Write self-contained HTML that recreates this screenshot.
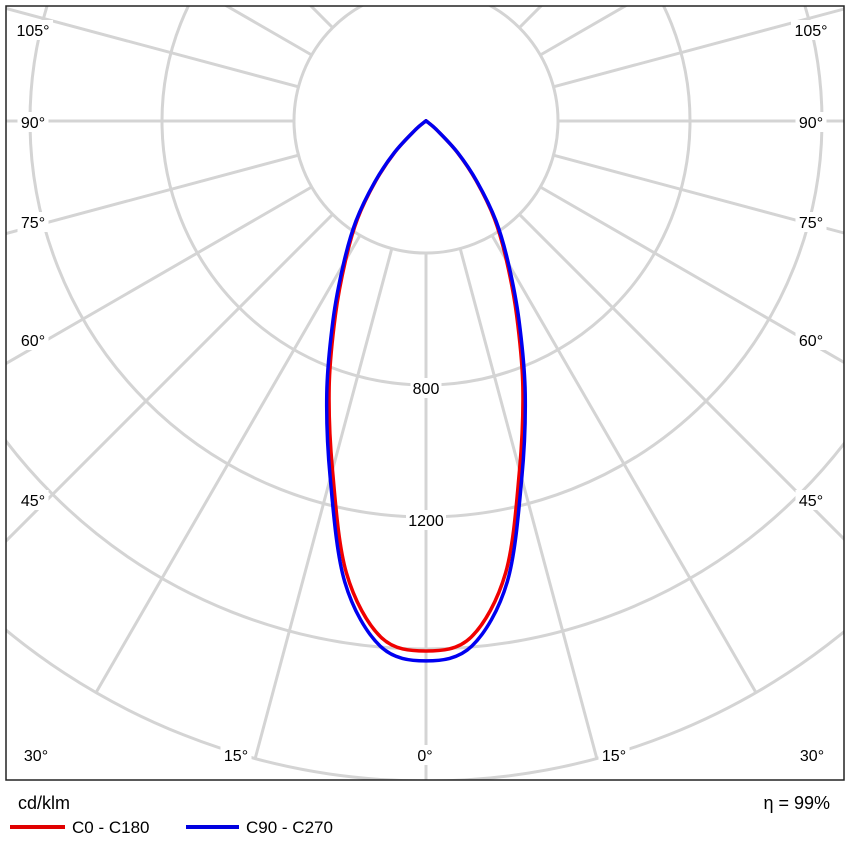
<!DOCTYPE html>
<html><head><meta charset="utf-8"><style>
html,body{margin:0;padding:0;background:#fff;overflow:hidden;width:848px;height:848px;}
svg{display:block;font-family:"Liberation Sans",Arial,sans-serif;}
</style></head><body>
<svg id="chart" width="848" height="848" viewBox="0 0 848 848">
<defs><clipPath id="plotclip"><rect x="6" y="6" width="838" height="774"/></clipPath></defs>
<rect x="0" y="0" width="848" height="848" fill="#fff"/>
<g id="grid" clip-path="url(#plotclip)"></g>
<g id="labels"></g>
<g id="curves" clip-path="url(#plotclip)"></g>
<rect x="6" y="6" width="838" height="774" fill="none" stroke="#222" stroke-width="1.5"/>
<text x="18" y="809" font-size="18" fill="#000">cd/klm</text>
<text x="830" y="809" font-size="18" fill="#000" text-anchor="end">η = 99%</text>
<line x1="10" y1="827" x2="65" y2="827" stroke="#e00000" stroke-width="4"/>
<text x="72" y="833" font-size="17" fill="#000">C0 - C180</text>
<line x1="186" y1="827" x2="239" y2="827" stroke="#0000e0" stroke-width="4"/>
<text x="246" y="833" font-size="17" fill="#000">C90 - C270</text>
</svg>
<script>
const angles = [0,5,10,15,20,25,30,35,40,45,50,55,60,65,70,75,80,85,90];
const c0c180 = [1606,1570,1390,1095,858,650,488,362,237,133,44,9,0,0,0,0,0,0,0];
const c90c270 = [1636,1597,1418,1121,879,667,500,370,242,136,45,9,0,0,0,0,0,0,0];
const ringValues = [400,800,1200,1600,2000];
const ringLabels = ["800","1200"];
const gridAngles = [0,15,30,45,60,75,90,105,120,135,150,165,180];
const NS="http://www.w3.org/2000/svg";
const cx=426, cy=121, scale=0.33;
function rad(v){return v*scale;}
function px(a,v){return cx+rad(v)*Math.sin(a*Math.PI/180);}
function py(a,v){return cy+rad(v)*Math.cos(a*Math.PI/180);}
const grid=document.getElementById('grid');
ringValues.forEach(v=>{
  const c=document.createElementNS(NS,'circle');
  c.setAttribute('cx',cx);c.setAttribute('cy',cy);c.setAttribute('r',rad(v));
  c.setAttribute('fill','none');c.setAttribute('stroke','#d4d4d4');c.setAttribute('stroke-width','3');
  
  
  grid.appendChild(c);
});
gridAngles.forEach(a=>{
  [1,-1].forEach(s=>{
    if(s===-1&&(a===0||a===180))return;
    const l=document.createElementNS(NS,'line');
    l.setAttribute('x1',px(s*a,400));l.setAttribute('y1',py(s*a,400));
    l.setAttribute('x2',px(s*a,2000));l.setAttribute('y2',py(s*a,2000));
    l.setAttribute('stroke','#d4d4d4');l.setAttribute('stroke-width','3');
    
    
    grid.appendChild(l);
  });
});
const labels=document.getElementById('labels');
function addLabel(x,y,t,name){
  const w=t.length*9+4;
  const r=document.createElementNS(NS,'rect');
  r.setAttribute('x',x-w/2);r.setAttribute('y',y-10);r.setAttribute('width',w);r.setAttribute('height',20);r.setAttribute('fill','#fff');
  
  
  labels.appendChild(r);
  const tx=document.createElementNS(NS,'text');
  tx.setAttribute('x',x);tx.setAttribute('y',y+6);tx.setAttribute('text-anchor','middle');tx.setAttribute('font-size','16');
  tx.textContent=t;
  
  
  labels.appendChild(tx);
}
const sideLabels=[["105°",30],["90°",122],["75°",222],["60°",340],["45°",500]];
sideLabels.forEach(([t,y])=>{addLabel(33,y,t,'angle-label-left-'+t.replace('°',''));addLabel(811,y,t,'angle-label-right-'+t.replace('°',''));});
[["30°",36],["15°",236],["0°",425],["15°",614],["30°",812]].forEach(([t,x],i)=>addLabel(x,755,t,'angle-label-bottom-'+i));
ringLabels.forEach((t)=>addLabel(cx,py(0,+t)+3,t,'ring-label-'+t));
const curves=document.getElementById('curves');
function curve(vals,color,name){
  const pts=[];
  for(let i=angles.length-1;i>=0;i--)pts.push([px(-angles[i],vals[i]),py(-angles[i],vals[i])]);
  for(let i=1;i<angles.length;i++)pts.push([px(angles[i],vals[i]),py(angles[i],vals[i])]);
  let d='M'+pts[0][0]+','+pts[0][1];
  for(let i=0;i<pts.length-1;i++){
    const p0=pts[Math.max(i-1,0)],p1=pts[i],p2=pts[i+1],p3=pts[Math.min(i+2,pts.length-1)];
    d+=' C'+(p1[0]+(p2[0]-p0[0])/6)+','+(p1[1]+(p2[1]-p0[1])/6)+' '+(p2[0]-(p3[0]-p1[0])/6)+','+(p2[1]-(p3[1]-p1[1])/6)+' '+p2[0]+','+p2[1];
  }
  const p=document.createElementNS(NS,'path');
  p.setAttribute('d',d);p.setAttribute('fill','none');p.setAttribute('stroke',color);p.setAttribute('stroke-width','3.5');p.setAttribute('stroke-linejoin','round');
  
  
  curves.appendChild(p);
}
curve(c0c180,'#f00000','curve-c0-c180');
curve(c90c270,'#0000f0','curve-c90-c270');
</script>
</body></html>
